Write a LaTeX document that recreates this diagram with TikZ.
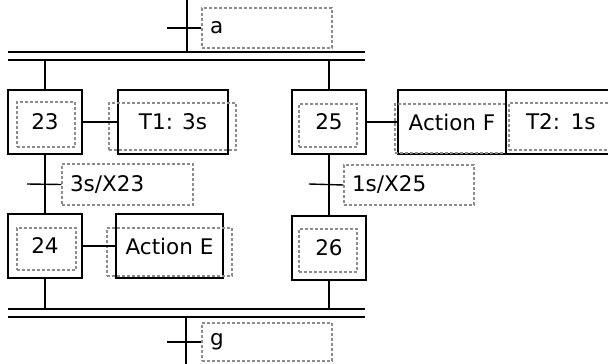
\documentclass[tikz,border=0pt]{standalone}
\usepackage{fontspec}
\setmainfont{DejaVu Sans}
\begin{document}
\begin{tikzpicture}[x=1pt,y=-1pt,
  line width=1.4pt,
  font=\fontsize{21.5}{25}\selectfont,
  solidbox/.style={draw=black, line width=1.4pt, rectangle, inner sep=0pt},
  dashbox/.style={draw=black!45, line width=1.1pt, dash pattern=on 3pt off 2pt, rectangle, inner sep=0pt},
  recbox/.style={dashbox, align=left, text width=#1, inner xsep=8pt},
  link/.style={draw=black, line width=1.4pt}
]
\clip (0,0) rectangle (608,364);
% top transition
\coordinate (topin) at (187,0);
\coordinate (tb1l) at (8,52);  \coordinate (tb1r) at (365,52);
\coordinate (tb2l) at (8,60);  \coordinate (tb2r) at (365,60);
\coordinate (topbar) at (187,52);
\node[recbox=114pt, minimum height=40pt] (ra) at (267,28) {a};
\coordinate (ta) at (167,28);
\draw[link] (topin) -- (topbar);
\draw[link] (ta) -- (ra.west);
\draw[link] (tb1l) -- (tb1r);
\draw[link] (tb2l) -- (tb2r);

% left branch
\node[solidbox, minimum width=74pt, minimum height=64pt] (s23) at (45,122) {23};
\node[dashbox, minimum width=58pt, minimum height=45pt] (s23d) at (46,124.5) {};
\node[solidbox, minimum width=110pt, minimum height=64pt] (t1) at (173,122) {T1: 3s};
\node[dashbox, minimum width=127pt, minimum height=47pt] (t1d) at (172.5,126.5) {};
\draw[link] (s23.east) -- (t1.west);

\node[recbox=115pt, minimum height=41pt] (r23) at (127.5,184.5) {3s/X23};
\coordinate (tr23) at (27,184);

\node[solidbox, minimum width=74pt, minimum height=64pt] (s24) at (45,246) {24};
\node[dashbox, minimum width=59pt, minimum height=42pt] (s24d) at (46.5,249) {};
\node[solidbox, minimum width=107pt, minimum height=64pt] (ae) at (169.5,246) {Action E};
\node[dashbox, minimum width=125pt, minimum height=48pt] (aed) at (169.5,252) {};
\draw[link] (s24.east) -- (ae.west);

\draw[link] (s23.north |- tb2l) -- (s23.north);
\draw[link] (s23.south) -- (s24.north);
\draw[link] (tr23) -- (r23.west);

% right branch
\node[solidbox, minimum width=74pt, minimum height=64pt] (s25) at (329,122) {25};
\node[dashbox, minimum width=58pt, minimum height=43pt] (s25d) at (328,125.5) {};
\node[solidbox, minimum width=108pt, minimum height=64pt] (af) at (452,122) {Action F};
\node[dashbox, minimum width=111pt, minimum height=49pt] (afd) at (450.5,128.5) {};
\node[solidbox, minimum width=114pt, minimum height=64pt, text width=98pt, align=left, inner xsep=8pt] (t2) at (563,122) {\hspace*{12pt}T2: 1s};
\node[dashbox, minimum width=111pt, minimum height=47pt] (t2d) at (564.5,126.5) {};
\draw[link] (s25.east) -- (af.west);

\node[recbox=114pt, minimum height=40pt] (r25) at (409,185) {1s/X25};
\coordinate (tr25) at (309,184);

\node[solidbox, minimum width=74pt, minimum height=64pt] (s26) at (329,248) {26};
\node[dashbox, minimum width=58pt, minimum height=43pt] (s26d) at (328,250.5) {};

\draw[link] (s25.north |- tb2l) -- (s25.north);
\draw[link] (s25.south) -- (s26.north);
\draw[link] (tr25) -- (r25.west);

% bottom convergence
\coordinate (bb1l) at (8,309);  \coordinate (bb1r) at (365,309);
\coordinate (bb2l) at (8,317);  \coordinate (bb2r) at (365,317);
\draw[link] (bb1l) -- (bb1r);
\draw[link] (bb2l) -- (bb2r);
\draw[link] (s24.south) -- (s24.south |- bb1l);
\draw[link] (s26.south) -- (s26.south |- bb1l);
\coordinate (botbar) at (186,317);
\coordinate (botout) at (186,364);
\draw[link] (botbar) -- (botout);
\node[recbox=114pt, minimum height=38pt] (rg) at (267,342) {g};
\coordinate (tg) at (167,342);
\draw[link] (tg) -- (rg.west);
\end{tikzpicture}
\end{document}
